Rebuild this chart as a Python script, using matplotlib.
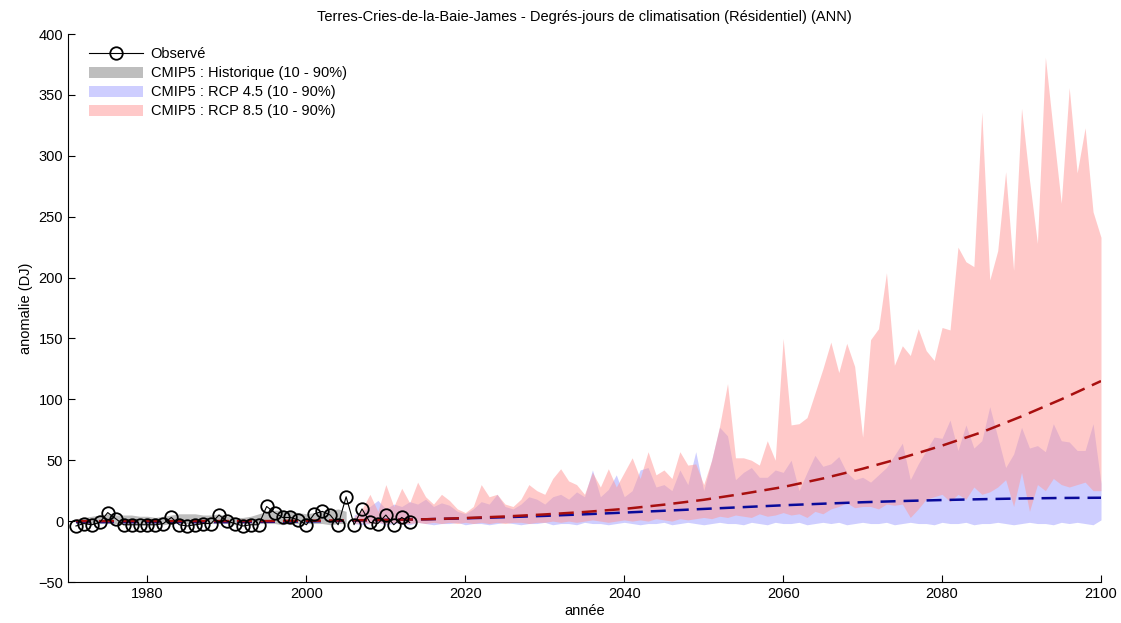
# Cooling degree-days anomaly, Eeyou Istchee: observed vs CMIP5 10-90% envelopes.
import numpy as np
import matplotlib
matplotlib.use("Agg")
import matplotlib.pyplot as plt

plt.rcParams["font.family"] = ["Liberation Sans", "DejaVu Sans"]

# observed anomalies 1971-2013
obs_years = np.arange(1971, 2014)
obs = [-4, -2, -3, -1, 7, 2, -3, -3, -3, -3,
       -3, -2, 3, -3, -4, -3, -2, -2, 5, 0,
       -2, -4, -3, -3, 12, 7, 3, 3, 1, -3,
       6, 8, 5, -3, 20, -3, 10, -1, -2, 5,
       -3, 3, -1]

# historical envelope 1971-2005
hist_years = np.arange(1971, 2006)
hist_hi = [2, 3, 4, 5, 6, 5, 5, 5, 4, 4,
           3, 4, 5, 6, 6, 6, 5, 5, 6, 4,
           3, 3, 4, 6, 8, 9, 9, 8, 7, 6,
           7, 8, 9, 10, 8]
hist_lo = [-2, -2, -3, -2, -2, -2, -3, -2, -2, -2,
           -2, -3, -2, -2, -2, -3, -2, -2, -2, -2,
           -3, -2, -2, -2, -2, -2, -3, -2, -2, -2,
           -2, -2, -3, -2, -2]

# scenario envelopes 2006-2100
scen_years = np.arange(2006, 2101)
r85_hi = [3, 10, 22, 8, 30,
          12, 27, 15, 32, 20, 14, 22, 17, 10, 7,
          12, 30, 20, 22, 14, 12, 18, 30, 25, 22,
          35, 43, 33, 30, 22, 40, 28, 43, 28, 40,
          52, 35, 57, 38, 42, 35, 57, 46, 47, 30,
          50, 78, 113, 52, 52, 50, 46, 66, 50, 150,
          79, 80, 85, 105, 125, 147, 122, 146, 127, 69,
          149, 158, 204, 128, 144, 136, 158, 140, 132, 159,
          157, 225, 213, 209, 336, 198, 222, 287, 206, 339,
          280, 228, 381, 320, 261, 356, 286, 323, 254, 233]
r85_lo = [-2, -1, -2, -1, -2,
          -1, -2, -2, -1, -2, -1, -2, -1, -2, -1,
          -2, -1, -2, -1, -2, -1, -1, -2, -1, -1,
          0, -1, 0, -1, 0, 1, 0, -1, 0, 1,
          0, 1, 0, 2, 1, 0, 2, 1, 2, 3,
          2, 4, 3, 5, 4, 3, 6, 4, 5, 7,
          5, 6, 3, 8, 6, 10, 12, 15, 11, 12,
          12, 10, 14, 13, 14, 3, 10, 18, 20, 22,
          16, 22, 18, 28, 22, 24, 28, 34, 12, 40,
          8, 30, 25, 35, 30, 28, 30, 32, 25, 25]
b45_hi = [5, 8, 12, 17, 10,
          14, 12, 16, 14, 18, 12, 15, 13, 8, 6,
          10, 16, 14, 22, 12, 10, 14, 20, 18, 14,
          20, 22, 18, 24, 20, 42, 20, 26, 38, 20,
          25, 42, 44, 28, 30, 25, 42, 30, 57, 25,
          50, 77, 70, 34, 40, 44, 36, 36, 42, 40,
          50, 25, 40, 54, 45, 47, 53, 40, 34, 36,
          32, 38, 44, 54, 64, 34, 47, 58, 69, 68,
          83, 58, 79, 60, 66, 94, 69, 44, 55, 77,
          60, 62, 57, 80, 66, 65, 58, 58, 80, 31]
b45_lo = [-2, -3, -2, -1, -3,
          -2, -2, -3, -1, -2, -3, -2, -2, -1, -3,
          -2, -2, -3, -2, -1, -2, -3, -2, -2, -1,
          -3, -2, -2, -3, -1, -2, -2, -3, -2, -1,
          -2, -3, -2, -2, -1, -3, -2, -1, -2, -3,
          -2, -1, -2, -2, -3, -1, -2, -3, -1, -2,
          -2, -1, -3, -2, -1, -2, -1, -3, -2, -1,
          -2, -2, -1, -3, -2, -1, -2, -2, -3, -1,
          -2, -2, -1, -3, -2, -2, -1, -2, -3, -2,
          -1, -2, -2, -3, -1, -2, -1, -2, -3, 1]

# ensemble medians (smooth curves read every 5 years)
mean_years = [1971, 1975, 1980, 1985, 1990, 1995, 2000, 2005, 2010, 2015,
              2020, 2025, 2030, 2035, 2040, 2045, 2050, 2055, 2060, 2065,
              2070, 2075, 2080, 2085, 2090, 2095, 2100]
r85_mean = [0, 0, 0, 0, 0, 0, 0.3, 0.6, 1, 1.5,
            2.5, 3.8, 5.5, 7.5, 10, 13.5, 17.5, 22.5, 28, 35,
            43, 52, 62, 73, 86, 100, 115]
b45_mean = [-0.8, -0.8, -0.8, -0.8, -0.8, -0.6, -0.3, 0.3, 1, 1.5,
            2.3, 3.2, 4.3, 5.6, 7, 8.5, 10, 11.5, 13, 14.3,
            15.5, 16.5, 17.3, 18, 18.6, 19, 19.2]

fig = plt.figure(figsize=(11.21, 6.23), dpi=100)
ax = fig.add_axes([68 / 1121, 41 / 623, 1033 / 1121, 548 / 623])

ax.fill_between(hist_years, hist_lo, hist_hi, color="#bebebe", lw=0,
                label="CMIP5 : Historique (10 - 90%)")
ax.fill_between(scen_years, b45_lo, b45_hi, color=(0.62, 0.62, 1.0), alpha=0.5, lw=0,
                label="CMIP5 : RCP 4.5 (10 - 90%)")
ax.fill_between(scen_years, r85_lo, r85_hi, color=(1.0, 0.6, 0.6), alpha=0.52, lw=0,
                label="CMIP5 : RCP 8.5 (10 - 90%)")
ax.plot(mean_years, b45_mean, color="#0a0a9a", lw=1.8, ls=(0, (6, 3.2)))
ax.plot(mean_years, r85_mean, color="#a80f0f", lw=1.8, ls=(0, (6, 3.2)))
ax.plot(obs_years, obs, color="black", lw=0.8, marker="o", ms=9,
        mfc="none", mec="black", mew=1.3, label="Observé")

ax.set_xlim(1970, 2100)
ax.set_ylim(-50, 400)
ax.set_xticks(range(1980, 2101, 20))
ax.set_yticks(range(-50, 401, 50))
ax.tick_params(direction="in", length=5, labelsize=10.5, top=False, right=False)
for s in ("top", "right"):
    ax.spines[s].set_visible(False)

ax.set_title("Terres-Cries-de-la-Baie-James - Degrés-jours de climatisation (Résidentiel) (ANN)",
             fontsize=10.5, pad=9)
ax.set_xlabel("année", fontsize=10.5, labelpad=2)
ax.set_ylabel("anomalie (DJ)", fontsize=10.5, labelpad=4)

h, l = ax.get_legend_handles_labels()
order = [l.index("Observé"), l.index("CMIP5 : Historique (10 - 90%)"),
         l.index("CMIP5 : RCP 4.5 (10 - 90%)"), l.index("CMIP5 : RCP 8.5 (10 - 90%)")]
ax.legend([h[i] for i in order], [l[i] for i in order], loc="upper left",
          bbox_to_anchor=(0.008, 1.0), frameon=False, fontsize=10.5,
          handlelength=3.7, handleheight=0.8, labelspacing=0.35, handletextpad=0.5)

fig.savefig("out.png", dpi=100)
